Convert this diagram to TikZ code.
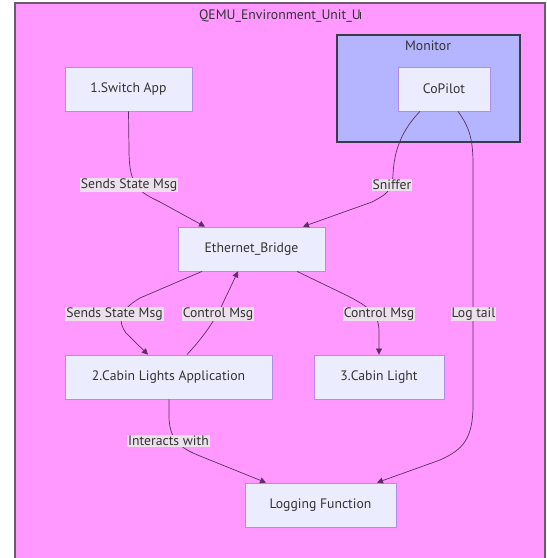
\documentclass[tikz,border=0pt]{standalone}
\usepackage{fontspec}
\setmainfont{PT Sans}
\usetikzlibrary{arrows.meta}
\definecolor{outerfill}{HTML}{FF99FF}
\definecolor{outerline}{HTML}{6A5A6A}
\definecolor{monfill}{HTML}{B5B5FF}
\definecolor{monline}{HTML}{3A3A4A}
\definecolor{nodefill}{HTML}{ECECFF}
\definecolor{nodeline}{HTML}{B58AE8}
\definecolor{txt}{HTML}{333333}
\definecolor{edge}{HTML}{5A3060}
\definecolor{lblfill}{HTML}{EBE0EB}
\tikzset{
  box/.style={draw=nodeline, fill=nodefill, line width=0.8pt, inner sep=0pt, text=txt, font=\fontsize{13.7}{15}\selectfont},
  lbl/.style={fill=lblfill, inner sep=1pt, text=txt, font=\fontsize{13.7}{15}\selectfont},
  title/.style={text=txt, font=\fontsize{13.7}{15}\selectfont},
  conn/.style={draw=edge, line width=0.7pt},
  arr/.style={conn, -{Triangle[length=6pt,width=6pt]}},
}
\begin{document}
\begin{tikzpicture}[x=1pt,y=-1pt]
\useasboundingbox (0,0) rectangle (547,558);
\clip (0,0) rectangle (547,558);
\fill[white] (0,0) rectangle (547,558);
% outer subgraph
\draw[fill=outerfill, draw=outerline, line width=1.5pt] (15,3) rectangle (545,575);
\node[title] (outert) at (280,16) {QEMU\_Environment\_Unit\_U\kern-0.5pt\raisebox{0pt}{\rule{0.6pt}{7pt}}};
% monitor subgraph
\draw[fill=monfill, draw=monline, line width=1.5pt] (337,35) rectangle (520,142);
\node[title] (mont) at (428,46) {Monitor};
% nodes
\node[box, minimum width=127pt, minimum height=44pt] (sw) at (128.5,89) {1.Switch App};
\node[box, minimum width=92pt, minimum height=44pt] (cp) at (444,89) {CoPilot};
\node[box, minimum width=147pt, minimum height=44pt] (eb) at (251.5,249) {Ethernet\_Bridge};
\node[box, minimum width=207pt, minimum height=44pt] (cl) at (168.5,377) {2.Cabin Lights Application};
\node[box, minimum width=130pt, minimum height=44pt] (lt) at (379,377) {3.Cabin Light};
\node[box, minimum width=151pt, minimum height=44pt] (lf) at (320.5,505) {Logging Function};
% edges
\draw[arr] (sw.south) -- (129,150) .. controls (129,188) and (140,192) .. (160,202) -- ([xshift=-46.5pt]eb.north);
\draw[arr] ([xshift=-24pt]cp.south) .. controls (402,130) and (394,150) .. (393,175) .. controls (392,192) and (385,195) .. (372,202) -- ([xshift=51.5pt]eb.north);
\draw[arr] ([xshift=14pt]cp.south) .. controls (470,128) and (473,140) .. (473,165) -- (473,405) .. controls (473,440) and (462,450) .. (440,460) -- ([xshift=56.5pt]lf.north);
\draw[arr] ([xshift=-49.5pt]eb.south) -- (140,298) .. controls (118,311) and (118,322) .. (126,333) -- ([xshift=-20.5pt]cl.north);
\draw[arr] ([xshift=18.5pt]cl.north) .. controls (205,335) and (215,320) .. (223,303) -- ([xshift=-13.5pt]eb.south);
\draw[arr] ([xshift=45.5pt]eb.south) -- (348,296) .. controls (373,309) and (379,316) .. (379,332) -- (lt.north);
\draw[arr] ([xshift=0.5pt]cl.south) -- (169,418) .. controls (170,440) and (180,448) .. (200,456) -- ([xshift=-54.5pt]lf.north);
% labels
\node[lbl] (l1) at (129,185) {Sends State Msg};
\node[lbl] (l2) at (392,185) {Sniffer};
\node[lbl] (l3) at (114.5,314) {Sends State Msg};
\node[lbl] (l4) at (218,314) {Control Msg};
\node[lbl] (l5) at (379,314) {Control Msg};
\node[lbl] (l6) at (473.5,314) {Log tail};
\node[lbl] (l7) at (168.5,441) {Interacts with};
\end{tikzpicture}
\end{document}
